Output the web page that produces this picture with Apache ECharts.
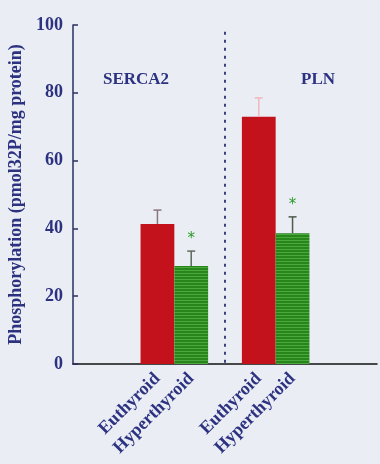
<!DOCTYPE html>
<html>
<head>
<meta charset="utf-8">
<script src="https://cdn.jsdelivr.net/npm/echarts@6/dist/echarts.min.js"></script>
<style>html,body{margin:0;padding:0;background:#eaedf4}#c{width:380px;height:464px}</style>
</head>
<body>
<div id="c"></div>
<script>
// ---- data ----
const groups = ['SERCA2', 'PLN'];
const conditions = ['Euthyroid', 'Hyperthyroid'];
const serca2Mean = [41.3, 28.9];
const serca2Err = [4.1, 4.4];
const plnMean = [72.9, 38.6];
const plnErr = [5.6, 4.8];
const significant = [false, true]; // * vs Euthyroid
const yTicks = [0, 20, 40, 60, 80, 100];
const yTitle = 'Phosphorylation (pmol32P/mg protein)';

// ---- layout of category slots: 2 blank, group1 (2 bars), 1 blank (divider), group2, 2 blank ----
const means = [serca2Mean, plnMean];
const errs = [serca2Err, plnErr];
const cats = ['', ''];
const barVals = [null, null];
const errData = [];
const dividerIdx = [];
groups.forEach((g, gi) => {
  conditions.forEach((c, ci) => {
    const idx = cats.length;
    cats.push(c);
    barVals.push(means[gi][ci]);
    errData.push([idx, means[gi][ci], errs[gi][ci], gi, ci, significant[ci] ? 1 : 0]);
  });
  if (gi < groups.length - 1) { dividerIdx.push(cats.length); cats.push(''); barVals.push(null); }
});
cats.push('', '');
barVals.push(null, null);

// textured green fill
function stripe(c1, c2) {
  const cv = document.createElement('canvas');
  cv.width = 4; cv.height = 3;
  const ctx = cv.getContext('2d');
  ctx.fillStyle = c1; ctx.fillRect(0, 0, 4, 3);
  ctx.fillStyle = c2; ctx.fillRect(0, 0, 4, 1);
  return cv;
}
const fills = [
  '#c3121b',
  { image: stripe('#27851c', '#4aa83c'), repeat: 'repeat' }
];
const errColors = [['#8c747c', '#5c6a5c'], ['#f0b9bb', '#4e5a4e']];

const navy = '#2c3280';
const font = '"Liberation Serif", "DejaVu Serif", serif';

const chart = echarts.init(document.getElementById('c'));
chart.setOption({
  backgroundColor: '#eaedf4',
  animation: false,
  grid: { left: 73, right: 3, top: 25, bottom: 100, containLabel: false, outerBoundsMode: 'none' },
  xAxis: {
    type: 'category',
    data: cats,
    boundaryGap: true,
    axisLine: { show: true, lineStyle: { color: '#111', width: 1.5 } },
    axisTick: { show: false },
    axisLabel: {
      interval: 0, rotate: 45, margin: 12,
      color: navy, fontFamily: font, fontWeight: 'bold', fontSize: 18
    },
    splitLine: { show: false }
  },
  yAxis: {
    type: 'value',
    min: yTicks[0], max: yTicks[yTicks.length - 1], interval: 20,
    name: yTitle, nameLocation: 'middle', nameRotate: 90, nameGap: 41,
    nameTextStyle: { color: navy, fontFamily: font, fontWeight: 'bold', fontSize: 18 },
    axisLine: { show: true, lineStyle: { color: '#2a2f60', width: 1.5 } },
    axisTick: { show: true, inside: true, length: 5, lineStyle: { color: '#2a2f60', width: 1.5 } },
    axisLabel: { color: navy, fontFamily: font, fontWeight: 'bold', fontSize: 18, margin: 10 },
    splitLine: { show: false }
  },
  graphic: [
    { type: 'text', left: 103, top: 71, style: { text: groups[0], fill: navy, font: 'bold 17px ' + font } },
    { type: 'text', left: 301, top: 71, style: { text: groups[1], fill: navy, font: 'bold 17px ' + font } }
  ],
  series: [
    {
      type: 'bar',
      barWidth: '100%',
      barCategoryGap: 0,
      data: barVals.map((v, i) => {
        if (v == null) return null;
        const ci = conditions.indexOf(cats[i]);
        return { value: v, itemStyle: { color: fills[ci] } };
      }),
      markLine: {
        silent: true, symbol: 'none', label: { show: false },
        lineStyle: { color: '#2a3170', type: [3, 5], width: 1.8 },
        data: dividerIdx.map(ix => [{ coord: [ix, 98] }, { coord: [ix, 0] }])
      },
      z: 2
    },
    {
      type: 'custom',
      data: errData,
      z: 3,
      renderItem: function (params, api) {
        const x = api.value(0), m = api.value(1), e = api.value(2);
        const gi = api.value(3), ci = api.value(4), sig = api.value(5);
        const p0 = api.coord([x, m]);
        const p1 = api.coord([x, m + e]);
        const col = errColors[gi][ci];
        const children = [
          { type: 'line', shape: { x1: p0[0], y1: p0[1], x2: p1[0], y2: p1[1] }, style: { stroke: col, lineWidth: 1.5 } },
          { type: 'line', shape: { x1: p1[0] - 4, y1: p1[1], x2: p1[0] + 4, y2: p1[1] }, style: { stroke: col, lineWidth: 1.5 } }
        ];
        if (sig) {
          children.push({ type: 'text', x: p1[0], y: p1[1] - 12,
            style: { text: '*', fill: '#2d9a2a', font: '15px "DejaVu Sans", sans-serif', align: 'center', verticalAlign: 'middle' } });
        }
        return { type: 'group', children: children };
      }
    }
  ]
});
</script>
</body>
</html>
